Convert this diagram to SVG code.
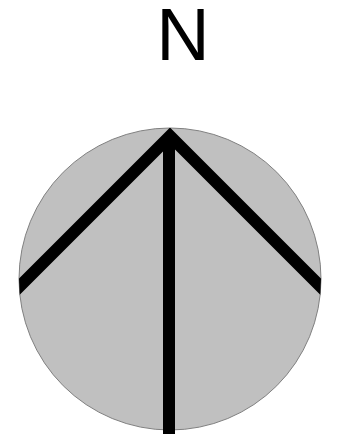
<svg xmlns="http://www.w3.org/2000/svg" width="338" height="434" viewBox="0 0 338 434">
<style>
.lbl{font-family:"Liberation Sans",Arial,sans-serif;font-size:74px;fill:#000}
.arm{fill:none;stroke:#000;stroke-width:12}
</style>
<defs><clipPath id="c"><circle cx="170" cy="279" r="151"/></clipPath></defs>
<rect width="338" height="434" fill="#fff"/>
<g id="label"><text class="lbl" x="183" y="60" text-anchor="middle">N</text></g>
<g id="disc"><circle cx="170" cy="279" r="151" fill="#c0c0c0" stroke="#808080" stroke-width="1"/></g>
<g id="arrow">
<path class="arm" clip-path="url(#c)" d="M10 296 L170 136 L330 296"/>
<line class="arm" x1="169" y1="136" x2="169" y2="434"/>
</g>
</svg>
